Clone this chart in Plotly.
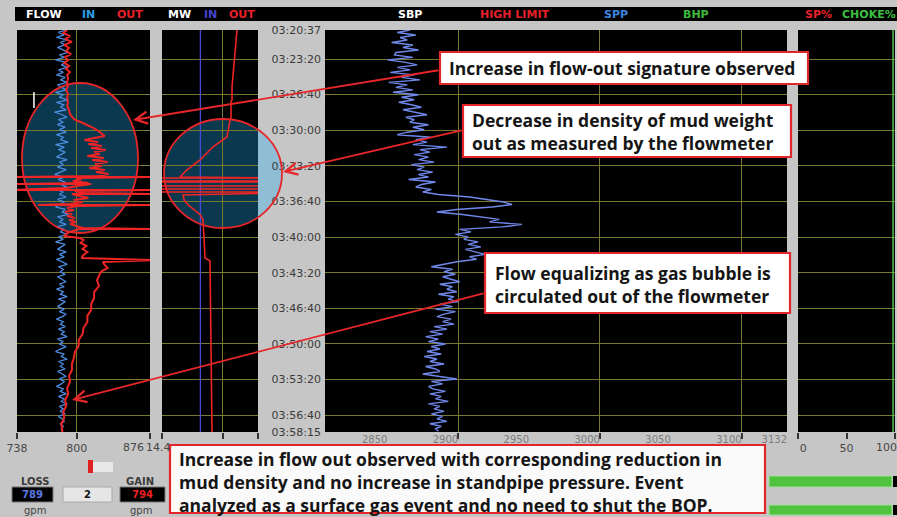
import plotly.graph_objects as go

W, H = 897, 517

# ---------------- data ----------------
time_ticks_s = [0, 163, 363, 563, 763, 963, 1163, 1363, 1563, 1763, 1963, 2163, 2258]
time_tick_text = ["03:20:37", "03:23:20", "03:26:40", "03:30:00", "03:33:20", "03:36:40",
                  "03:40:00", "03:43:20", "03:46:40", "03:50:00", "03:53:20", "03:56:40", "03:58:15"]

sample_t = list(range(0, 2255, 14))  # sampling grid, seconds after 03:20:37

flow_in = [789, 781, 787, 779, 790, 783, 788, 780, 786, 791, 782, 787, 778, 789, 784, 790, 781, 786, 779, 788,
           783, 790, 780, 785, 789, 778, 786, 782, 791, 779, 787, 783, 789, 777, 785, 790, 781, 786, 780, 788,
           782, 789, 779, 786, 783, 791, 778, 787, 781, 788, 784, 779, 790, 782, 786, 780, 789, 783, 777, 787,
           781, 788, 784, 790, 779, 786, 782, 789, 780, 787, 783, 778, 788, 785, 791, 780, 786, 782, 789, 779,
           787, 783, 790, 781, 786, 778, 788, 784, 780, 789, 782, 787, 779, 785, 790, 781, 786, 783, 788, 780,
           785, 789, 782, 787, 779, 786, 783, 790, 781, 788, 784, 780, 787, 782, 789, 785, 779, 786, 783, 788,
           781, 787, 784, 790, 780, 786, 782, 789, 783, 778, 787, 784, 790, 781, 786, 783, 788, 780, 785, 789,
           782, 787, 784, 779, 786, 783, 789, 781, 787, 784, 790, 782, 786, 783, 788, 781, 785, 787, 783, 786,
           784, 785]

flow_out_t = [0, 17, 34, 51, 67, 84, 101, 118, 135, 152, 169, 185, 202, 219, 236, 253, 270,
              292, 315, 337, 359, 382, 404, 427, 449, 472,
              494, 506, 517, 528, 539, 550, 562, 573, 584, 595,
              607, 618, 629, 640, 652, 663, 674, 685, 697, 708, 719, 730, 741, 753, 764, 775, 786, 798, 809, 820,
              826, 826, 831,
              837, 848, 859, 865, 865, 876, 887, 899, 899, 904, 916, 921, 921, 932, 944, 955, 966, 977, 983, 983,
              989, 1000, 1011, 1022, 1034, 1045, 1056, 1067, 1078, 1090, 1101, 1112,
              1118, 1118, 1129, 1140, 1157, 1168, 1180, 1196, 1213, 1230, 1247, 1264, 1281, 1292, 1303, 1320,
              1337, 1354, 1371,
              1404, 1438, 1472, 1505, 1539, 1573, 1606, 1640, 1674, 1708, 1741, 1775, 1809, 1842, 1876, 1910,
              1943, 1977, 2011, 2045, 2078, 2112, 2146, 2179, 2213, 2247, 2258]
flow_out_v = [790, 786, 793, 788, 795, 787, 792, 789, 794, 788, 791, 787, 792, 789, 793, 790, 791,
              790, 791, 789, 791, 790, 791, 790, 792, 793,
              796, 799, 804, 809, 813, 817, 821, 824, 827, 829,
              818, 808, 822, 812, 826, 815, 830, 818, 824, 811, 828, 816, 832, 819, 826, 813, 829, 820, 833, 822,
              730, 880, 800,
              805, 796, 812, 730, 815, 800, 790, 730, 880, 798, 808, 880, 795, 803, 812, 797, 806, 793, 760, 880,
              800, 790, 797, 788, 795, 790, 798, 792, 799, 793, 801, 806,
              880, 803, 796, 790, 787, 803, 807, 804, 810, 806, 811, 807, 805, 880, 827, 829,
              832, 826, 824,
              821, 823, 818, 818, 815, 815, 811, 811, 807, 806, 802, 802, 798, 797, 795, 795,
              792, 793, 790, 791, 788, 789, 786, 787, 784, 785, 785]

cursor_t = [348, 438]
cursor_v = [755.6, 755.6]

mw_in_t = [0, 2258]
mw_in_v = [14.78, 14.78]

mw_out_t = [0, 129, 225, 320, 393, 400, 489, 506, 601, 657, 730, 786, 826,
            831, 831, 848, 848, 854, 854, 876, 876, 893, 893, 910, 910, 916,
            927, 955, 983, 1011, 1039, 1067, 1180, 1281, 1297, 1517, 1797, 2078, 2258]
mw_out_v = [15.142, 15.122, 15.103, 15.093, 15.093, 15.083, 15.083, 15.073, 15.043, 14.905, 14.776, 14.647, 14.578,
            15.5, 14.3, 14.3, 15.5, 15.5, 14.3, 14.3, 15.5, 15.5, 14.3, 14.3, 15.5, 15.5,
            14.608, 14.62, 14.66, 14.72, 14.78, 14.806, 14.816, 14.826, 14.875, 14.880, 14.885, 14.890, 14.895]

spp = [2866, 2857, 2870, 2859, 2864, 2853, 2868, 2861, 2872, 2856,
       2855, 2868, 2850, 2863, 2871, 2857, 2866, 2852, 2869, 2860, 2873,
       2851, 2864, 2856, 2868, 2854,
       2872, 2860, 2869, 2858, 2867,
       2874, 2861, 2870, 2878, 2863, 2869,
       2866, 2879, 2868, 2876, 2864, 2857,
       2881, 2870, 2878, 2868, 2892, 2873, 2880,
       2869, 2879, 2872, 2883, 2867, 2876, 2871,
       2882, 2872, 2879, 2865, 2884, 2874,
       2870, 2881, 2875, 2886,
       2908,
       2921, 2932, 2938, 2924,
       2899, 2885, 2903,
       2918, 2929, 2922, 2945, 2931,
       2901, 2909, 2898, 2907,
       2904, 2914, 2907, 2916, 2905, 2912, 2919, 2908, 2913,
       2899, 2889, 2881, 2896, 2890,
       2898, 2889, 2895, 2901, 2887, 2896, 2892, 2899, 2886, 2897, 2893, 2900,
       2887, 2896, 2884, 2898, 2890, 2885, 2895, 2889, 2897, 2883, 2892,
       2880, 2889, 2877, 2886, 2879, 2891, 2881, 2887,
       2878, 2888, 2876, 2885, 2880, 2890, 2877, 2884, 2887, 2875, 2886, 2899, 2881, 2889, 2879,
       2882, 2891, 2880, 2888, 2884, 2893, 2879, 2887, 2883, 2890, 2881, 2889, 2885, 2892, 2880, 2888, 2884, 2886]

choke_t = [0, 2258]
choke_v = [98, 98]

# tick values; labels that sit at crowded panel edges are drawn as separate text below
flow_ticks = [738, 800, 876]
flow_tick_text = ["738", "800", ""]
mw_ticks = [14.4, 15.0, 15.35]
mw_tick_text = ["", "", ""]
spp_ticks = [2850, 2900, 2950, 3000, 3050, 3100, 3132]
spp_grid = [2900, 3000, 3100]
pct_ticks = [0, 50, 100]
pct_tick_text = ["\u00a0\u00a0\u00a00", "50", ""]
edge_labels = [("876", 133), ("14.4", 158), ("100", 886)]

header_items = [("FLOW", 44, "#ffffff"), ("IN", 88, "#2f9de6"), ("OUT", 130, "#e8202a"),
                ("MW", 179, "#ffffff"), ("IN", 210, "#4444cc"), ("OUT", 242, "#e8202a"),
                ("SBP", 410, "#ffffff"), ("HIGH LIMIT", 515, "#e8202a"), ("SPP", 616, "#3a86e0"),
                ("BHP", 696, "#3cbb3c"), ("SP%", 818, "#e8202a"), ("CHOKE%", 869, "#3cc040")]

callout_1 = "Increase in flow-out signature observed"
callout_2 = "Decrease in density of mud weight<br>out as measured by the flowmeter"
callout_3 = "Flow equalizing as gas bubble is<br>circulated out of the flowmeter"
callout_4 = ("Increase in flow out observed with corresponding reduction in<br>"
             "mud density and no increase in standpipe pressure. Event<br>"
             "analyzed as a surface gas event and no need to shut the BOP.")

# ---------------- helpers ----------------
def px(x):
    return x / W

def py(y):
    return 1 - y / H

GRID = "#78782f"
YD = [py(432), py(30)]
TICKFONT = dict(family="DejaVu Sans", size=11, color="#474747")

fig = go.Figure()

fig.add_trace(go.Scatter(x=flow_in, y=sample_t, mode="lines", line=dict(color="#4d8de2", width=1.3),
                         xaxis="x", yaxis="y", hoverinfo="skip"))
fig.add_trace(go.Scatter(x=flow_out_v, y=flow_out_t, mode="lines", line=dict(color="#f02424", width=2),
                         xaxis="x", yaxis="y", hoverinfo="skip"))
fig.add_trace(go.Scatter(x=cursor_v, y=cursor_t, mode="lines", line=dict(color="#ffffff", width=1.5),
                         xaxis="x", yaxis="y", hoverinfo="skip"))
fig.add_trace(go.Scatter(x=mw_in_v, y=mw_in_t, mode="lines", line=dict(color="#4a4ad6", width=1.3),
                         xaxis="x2", yaxis="y2", hoverinfo="skip"))
fig.add_trace(go.Scatter(x=mw_out_v, y=mw_out_t, mode="lines", line=dict(color="#f02424", width=1.6),
                         xaxis="x2", yaxis="y2", hoverinfo="skip"))
fig.add_trace(go.Scatter(x=spp, y=sample_t, mode="lines", line=dict(color="#6f88ea", width=1.4),
                         xaxis="x3", yaxis="y3", hoverinfo="skip"))
fig.add_trace(go.Scatter(x=choke_v, y=choke_t, mode="lines", line=dict(color="#5cc050", width=1.5),
                         xaxis="x4", yaxis="y4", hoverinfo="skip"))

def yaxis(anchor, labels=False):
    d = dict(domain=YD, anchor=anchor, range=[2258, 0], tickmode="array", tickvals=time_ticks_s,
             ticktext=time_tick_text, showgrid=True, gridcolor=GRID, gridwidth=1, zeroline=False,
             showline=False, ticks="", showticklabels=labels, fixedrange=True, automargin=False)
    if labels:
        d.update(tickfont=dict(family="DejaVu Sans", size=11, color="#3a3a3a"), ticklabelstandoff=3)
    return d

def xaxis(domain, anchor, rng, tickvals, ticktext, grid=True):
    return dict(domain=domain, anchor=anchor, range=rng, tickmode="array", tickvals=tickvals,
                ticktext=ticktext, showgrid=grid, gridcolor=GRID, gridwidth=1, zeroline=False,
                showline=False, ticks="outside", ticklen=6, tickcolor="#333333", tickwidth=1.5,
                tickfont=TICKFONT, fixedrange=True, automargin=False, ticklabeloverflow="allow")

layout = dict(
    width=W, height=H, margin=dict(l=0, r=0, t=0, b=0, autoexpand=False),
    paper_bgcolor="#c6c6c6", plot_bgcolor="#000000", showlegend=False,
    font=dict(family="DejaVu Sans"),
    xaxis=xaxis([px(17), px(150)], "y", [738, 876], flow_ticks, flow_tick_text),
    xaxis2=xaxis([px(162), px(258)], "y2", [14.4, 15.35], mw_ticks, mw_tick_text),
    xaxis3=dict(domain=[px(325), px(787)], anchor="y3", range=[2806, 3132], tickmode="array",
                tickvals=spp_ticks, ticktext=[str(v) for v in spp_ticks], showgrid=False,
                zeroline=False, showline=False, ticks="", ticklabelposition="outside left",
                ticklabeloverflow="allow",
                tickfont=dict(family="DejaVu Sans", size=10, color="#7c7c7c"), fixedrange=True,
                automargin=False,
                minor=dict(tickmode="array", tickvals=spp_grid, showgrid=True, gridcolor=GRID,
                           gridwidth=1, ticks="outside", ticklen=6, tickcolor="#333333", tickwidth=1.5)),
    xaxis4=xaxis([px(798), px(895)], "y4", [0, 100], pct_ticks, pct_tick_text, grid=False),
    yaxis=yaxis("x"), yaxis2=yaxis("x2"), yaxis3=yaxis("x3", labels=True), yaxis4=yaxis("x4"),
)
fig.update_layout(**layout)

def rect(x0, y0, x1, y1, fill, line_color=None, lw=0, layer="above"):
    fig.add_shape(type="rect", xref="paper", yref="paper", x0=px(x0), x1=px(x1), y0=py(y1), y1=py(y0),
                  fillcolor=fill, line=dict(color=line_color or fill, width=lw), layer=layer)

def text(x, y, s, size=11, color="#333", bold=True, family="DejaVu Sans", xanchor="center", align="center"):
    fig.add_annotation(xref="paper", yref="paper", x=px(x), y=py(y), text=(f"<b>{s}</b>" if bold else s),
                       showarrow=False, xanchor=xanchor, yanchor="middle", align=align,
                       font=dict(family=family, size=size, color=color))

# edge tick labels (same style as axis tick labels)
for s, cx in edge_labels:
    text(cx, 447, s, size=11, color="#474747", bold=False)

# header bar
rect(15, 7, 897, 21, "#000000", layer="below")
for label, cx, col in header_items:
    text(cx, 14.5, label, size=11, color=col)

# ellipse fills (below traces) and outlines (above)
ELL_FILL = "rgba(30,170,240,0.33)"
for (x0, y0, x1, y1) in [(22, 83, 138, 233), (164, 119, 282, 228)]:
    fig.add_shape(type="circle", xref="paper", yref="paper", x0=px(x0), x1=px(x1), y0=py(y1), y1=py(y0),
                  fillcolor=ELL_FILL, line=dict(width=0), layer="below")
    fig.add_shape(type="circle", xref="paper", yref="paper", x0=px(x0), x1=px(x1), y0=py(y1), y1=py(y0),
                  fillcolor="rgba(0,0,0,0)", line=dict(color="#e8262a", width=1.8), layer="above")

# callout boxes
BOX_LINE = "#e3262b"
rect(440, 52, 808, 84, "#ffffff", BOX_LINE, 2.2)
rect(463, 105, 791, 157, "#ffffff", BOX_LINE, 2.2)
rect(485, 253, 790, 313, "#ffffff", BOX_LINE, 2.2)
rect(170, 445, 765, 513, "rgba(255,255,255,0.9)", BOX_LINE, 2.2)

BODY = dict(family="Open Sans", size=17.5, color="#151515")
for s, x, y in [(callout_1, 447, 68), (callout_2, 470, 131), (callout_3, 493, 284),
                (callout_4, 177, 482)]:
    fig.add_annotation(xref="paper", yref="paper", x=px(x), y=py(y), text=f"<b>{s}</b>",
                       showarrow=False, xanchor="left", yanchor="middle", align="left", font=BODY)

# arrows: tip (x, y), tail offsets in pixels
for (tx, ty, sx, sy) in [(133, 120, 440, 70), (283, 172, 463, 130), (72, 400, 485, 293)]:
    fig.add_annotation(xref="paper", yref="paper", x=px(tx), y=py(ty), ax=sx - tx, ay=sy - ty,
                       axref="pixel", ayref="pixel", text="", showarrow=True, arrowhead=5,
                       arrowsize=1.3, arrowwidth=1.8, arrowcolor="#e8262a", standoff=0, startstandoff=0)

# bottom-left widgets
rect(88, 460, 93, 473, "#e02020")
rect(93, 462, 113, 472, "#e8e8e8")
text(35, 481, "LOSS", size=10, color="#3a3a3a")
text(140, 481, "GAIN", size=10, color="#3a3a3a")
rect(12, 487, 53, 502, "#000000", "#777777", 1)
rect(63, 487, 112, 502, "#e6e6e6", "#aaaaaa", 1)
rect(120, 487, 165, 502, "#000000", "#777777", 1)
text(32, 494.5, "789", size=10, color="#5a7ae6")
text(87.5, 494.5, "2", size=10, color="#111111")
text(142.5, 494.5, "794", size=10, color="#ee2020")
text(35, 510, "gpm", size=10, color="#444444", bold=False)
text(141, 510, "gpm", size=10, color="#444444", bold=False)

# bottom-right gauges
rect(769, 476, 892, 487, "#4fc23e", "#a8dca0", 1)
rect(893, 476, 897, 487, "#000000")
rect(769, 505, 892, 515, "#4fc23e", "#a8dca0", 1)
rect(893, 505, 897, 515, "#000000")

fig.write_html("out.html", config={"displayModeBar": False},
               post_script="document.body.style.margin='0';")
